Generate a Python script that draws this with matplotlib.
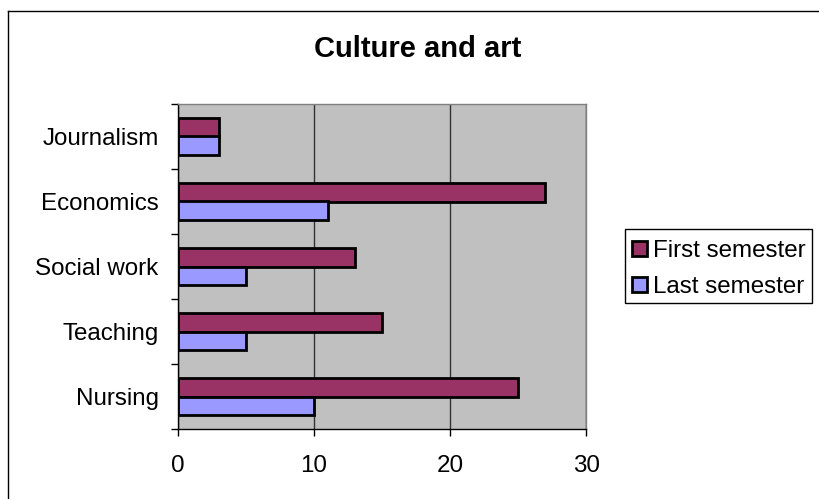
import numpy as np
import matplotlib
matplotlib.use("Agg")
import matplotlib.pyplot as plt
from matplotlib.lines import Line2D
from matplotlib.patches import Patch, Rectangle

plt.rcParams['font.family'] = ['Liberation Sans', 'DejaVu Sans']

# data (bottom to top)
categories = ['Nursing', 'Teaching', 'Social work', 'Economics', 'Journalism']
first_semester = [25, 15, 13, 27, 3]
last_semester = [10, 5, 5, 11, 3]

W, H = 819, 499
fig = plt.figure(figsize=(W / 100, H / 100), dpi=100)
ax = fig.add_axes([178 / W, 1 - 429 / H, (586 - 178) / W, (429 - 104) / H])
ax.set_facecolor('#C0C0C0')

y = np.arange(len(categories))
h = 0.285
ax.barh(y + h / 2, first_semester, height=h, color='#993366', edgecolor='black', linewidth=2, zorder=3)
ax.barh(y - h / 2, last_semester, height=h, color='#9999FF', edgecolor='black', linewidth=2, zorder=3)

ax.set_xlim(0, 30)
ax.set_ylim(-0.5, len(categories) - 0.5)
ax.set_xticks([0, 10, 20, 30])
ax.tick_params(axis='x', direction='out', length=5, width=1, labelsize=17.4, pad=14)
ax.xaxis.grid(True, color='#333333', linewidth=1, zorder=1)
ax.set_axisbelow(True)

# ticks between categories, labels at centres
ax.set_yticks(np.arange(-0.5, len(categories), 1.0))
ax.set_yticklabels([])
ax.tick_params(axis='y', which='major', direction='out', length=5, width=1)
ax.set_yticks(y, minor=True)
ax.set_yticklabels(categories, minor=True)
ax.tick_params(axis='y', which='minor', length=0, labelsize=17.4, pad=14)

ax.spines['left'].set_color('black')
ax.spines['bottom'].set_color('black')
ax.spines['top'].set_color('#808080')
ax.spines['right'].set_color('#808080')
for s in ax.spines.values():
    s.set_linewidth(1)

fig.text(418 / W, 1 - 56.7 / H, 'Culture and art', ha='center', va='baseline',
         fontsize=21, fontweight='bold')

# legend box drawn separately so its size matches the original
fig.add_artist(Rectangle((625 / W, 1 - 303 / H), (812 - 625) / W, (303 - 229) / H,
                         transform=fig.transFigure, facecolor='white', edgecolor='black',
                         linewidth=1))
handles = [Patch(facecolor='#993366', edgecolor='black', linewidth=2, label='First semester'),
           Patch(facecolor='#9999FF', edgecolor='black', linewidth=2, label='Last semester')]
leg = fig.legend(handles=handles, loc='center left', bbox_to_anchor=(625 / W, 1 - 269 / H),
                 borderaxespad=0, fontsize=17.4, frameon=False,
                 handlelength=0.6, handleheight=0.6,
                 handletextpad=0.25, labelspacing=0.57, borderpad=0.3)

# outer chart border (only top and left visible)
fig.add_artist(Line2D([8 / W, 1], [1 - 11 / H, 1 - 11 / H], color='black', linewidth=1))
fig.add_artist(Line2D([8 / W, 8 / W], [0, 1 - 11 / H], color='black', linewidth=1))

fig.savefig('out.png', dpi=100)
